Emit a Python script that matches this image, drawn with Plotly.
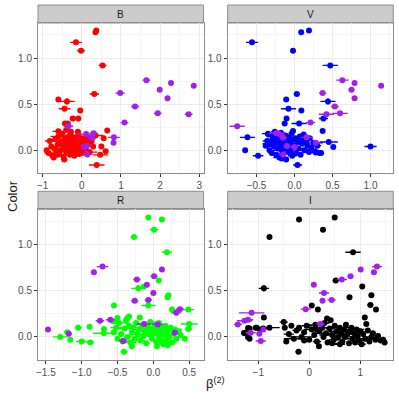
import plotly.graph_objects as go

bands = ["B", "V", "R", "I"]
band_colors = {"B": "#FF0000", "V": "#0000FF", "R": "#00FF00", "I": "#000000"}
purple = "#A020F0"

# ---- purple (highlighted) sources: shared Color values, per-band beta ----
purple_y = [0.76, 0.73, 0.70, 0.655, 0.62, 0.565, 0.475, 0.40, 0.39, 0.30,
            0.26, 0.185, 0.175, 0.14, 0.135, 0.08, 0.045, 0.035, -0.045]
purple_x = {
    "B": [1.65, 2.28, 2.86, 1.99, 0.98, 2.19, 1.36, 1.94, 2.73, 1.09,
          -0.34, 0.30, 0.11, 0.82, 0.25, 0.81, 0.13, 0.05, 0.14],
    "V": [0.63, 0.79, 1.14, 0.75, 0.37, 0.79, 0.53, 0.60, 0.42, 0.21,
          -0.755, -0.24, -0.20, 0.16, -0.15, 0.28, -0.10, 0.00, -0.15],
    "R": [-0.71, 0.12, -0.83, 0.01, -0.23, -0.09, 0.00, -0.07, -0.26, 0.37,
          0.32, -0.60, -0.745, -0.13, 0.06, -1.47, 0.30, -1.18, -0.42],
    "I": [1.33, 1.01, 1.27, 0.81, 0.64, 0.09, 0.29, 0.44, 0.26, -0.07,
          -1.13, -1.20, -1.27, 0.22, -1.40, -0.90, -1.15, -0.98, -0.95],
}
purple_xerr = {
    "B": [0.1, 0.06, 0.03, 0.06, 0.12, 0.03, 0.1, 0.1, 0.1, 0.1,
          0.12, 0.1, 0.25, 0.15, 0.1, 0.03, 0.1, 0.05, 0.12],
    "V": [0.08, 0.03, 0.03, 0.04, 0.05, 0.02, 0.05, 0.1, 0.1, 0.06,
          0.1, 0.1, 0.08, 0.08, 0.05, 0.03, 0.05, 0.05, 0.06],
    "R": [0.08, 0.04, 0.04, 0.05, 0.05, 0.04, 0.04, 0.05, 0.05, 0.06,
          0.07, 0.06, 0.06, 0.1, 0.08, 0.03, 0.04, 0.04, 0.06],
    "I": [0.1, 0.04, 0.04, 0.06, 0.1, 0.03, 0.1, 0.08, 0.04, 0.1,
          0.25, 0.1, 0.15, 0.08, 0.08, 0.05, 0.1, 0.05, 0.1],
}

# ---- main sources per band ----
main_x = {
    "B": [0.37, 0.35, -0.15, -0.02, 0.53, 0.32, -0.60, -0.38, -0.44, -0.04,
          -0.23, -0.09, -0.43, -0.36, -0.60, 0.65, 0.35, 0.56, 0.29, 0.50,
          0.61, 0.47, 0.38,
          -0.90, -0.85, -0.82, -0.78, -0.75, -0.72, -0.70, -0.68, -0.65, -0.62,
          -0.60, -0.58, -0.55, -0.53, -0.50, -0.48, -0.47, -0.45, -0.43, -0.42,
          -0.40, -0.39, -0.37, -0.35, -0.34, -0.32, -0.30, -0.29, -0.27, -0.25,
          -0.24, -0.22, -0.20, -0.19, -0.17, -0.15, -0.14, -0.12, -0.10, -0.08,
          -0.07, -0.05, -0.03, -0.02, 0.00, 0.02, 0.04, 0.05, 0.08, 0.10,
          0.12, 0.15, 0.18, 0.20, 0.25, 0.28, -0.45, -0.62, -0.28, -0.10],
    "V": [0.087, 0.19, -0.56, -0.02, 0.47, 0.03, -0.11, 0.44, -0.08, 0.09,
          0.38, -0.105, -0.13, 0.06, 0.37, -0.02, -0.34, -0.62, -0.65, -0.48,
          0.04, 1.00, 0.51, 0.45, 0.28, 0.35,
          -0.38, -0.36, -0.35, -0.33, -0.32, -0.30, -0.29, -0.27, -0.26, -0.25,
          -0.24, -0.23, -0.22, -0.21, -0.20, -0.19, -0.18, -0.17, -0.16, -0.15,
          -0.14, -0.13, -0.12, -0.11, -0.10, -0.09, -0.08, -0.07, -0.06, -0.05,
          -0.04, -0.03, -0.02, 0.00, 0.01, 0.02, 0.04, 0.05, 0.07, 0.08,
          0.10, 0.11, 0.13, 0.15, 0.17, 0.19, 0.20, 0.22, 0.25, 0.27,
          0.30, 0.33, -0.17, 0.12, -0.28],
    "R": [-0.07, 0.12, 0.01, -0.27, 0.19, 0.075, -0.13, -0.21, 0.20, 0.21,
          -0.55, -0.07, 0.26, 0.49, -0.89, -1.05, -1.20, -1.30, -1.16, -1.00,
          -0.88, -0.41, 0.44, 0.49, 0.50, -0.36, -0.19, -0.50, -0.55, -0.69,
          -0.69, -0.34,
          -0.55, -0.52, -0.50, -0.48, -0.45, -0.43, -0.40, -0.38, -0.36, -0.34,
          -0.32, -0.30, -0.28, -0.26, -0.24, -0.22, -0.20, -0.18, -0.16, -0.14,
          -0.12, -0.10, -0.08, -0.06, -0.04, -0.02, 0.00, 0.01, 0.03, 0.04,
          0.06, 0.07, 0.09, 0.10, 0.11, 0.13, 0.14, 0.16, 0.17, 0.19,
          0.20, 0.22, 0.24, 0.26, 0.28, 0.30, 0.32, 0.35, 0.38, 0.05,
          0.20, -0.05, 0.08, -0.30, 0.12],
    "I": [-0.20, 0.50, 0.27, -0.78, 0.86, 0.52, 1.04, -0.89, 0.79, 1.22,
          0.05, 0.17, 1.20, 1.31, -0.89, 1.09, 1.12, -0.50, -0.21, 0.19,
          -0.45, -1.26, -1.17, -1.17, -0.90, -0.78, -0.95, -1.05, -1.20, -1.03,
          -1.28, -1.20, 1.48, 1.45,
          -0.48, -0.40, -0.35, -0.30, -0.25, -0.20, -0.15, -0.10, -0.05, 0.00,
          0.05, 0.10, 0.12, 0.15, 0.20, 0.25, 0.28, 0.30, 0.33, 0.36,
          0.40, 0.42, 0.45, 0.48, 0.50, 0.53, 0.56, 0.60, 0.62, 0.65,
          0.68, 0.70, 0.72, 0.75, 0.78, 0.80, 0.83, 0.85, 0.88, 0.90,
          0.93, 0.95, 0.98, 1.00, 1.03, 1.06, 1.10, 1.15, 1.18, 1.22,
          1.25, 1.30, 1.35, 1.40, 0.35, 0.60, 0.15, -0.10, 0.45],
}
main_y = {
    "B": [1.30, 1.28, 1.17, 1.08, 0.92, 0.61, 0.55, 0.53, 0.45, 0.43,
          0.345, 0.345, 0.29, 0.29, 0.205, 0.215, 0.16, 0.13, 0.04, 0.04,
          -0.01, -0.05, -0.16,
          0.00, -0.03, 0.10, 0.04, -0.06, -0.08, 0.02, 0.12, -0.02, 0.06,
          0.15, -0.04, 0.09, 0.00, 0.18, 0.05, -0.07, 0.12, 0.02, 0.08,
          0.22, -0.03, 0.14, 0.06, 0.00, 0.10, -0.05, 0.17, 0.04, 0.12,
          -0.01, 0.08, 0.02, -0.06, 0.14, 0.06, -0.02, 0.10, 0.03, 0.16,
          -0.04, 0.07, 0.12, 0.00, 0.09, -0.03, 0.13, 0.05, 0.10, 0.02,
          0.15, 0.07, 0.12, -0.02, 0.10, 0.14, -0.10, -0.05, 0.20, 0.20],
    "V": [1.28, 1.30, 1.17, 1.08, 0.92, 0.61, 0.55, 0.53, 0.45, 0.43,
          0.345, 0.345, 0.29, 0.29, 0.21, 0.21, 0.17, 0.14, 0.00, -0.06,
          -0.16, 0.04, 0.035, 0.09, -0.025, -0.03,
          0.05, 0.10, 0.18, 0.00, 0.07, -0.03, 0.12, 0.04, 0.20, 0.09,
          -0.05, 0.15, 0.02, 0.11, -0.08, 0.06, 0.19, 0.00, 0.13, -0.04,
          0.08, 0.03, 0.16, -0.10, 0.10, 0.05, -0.02, 0.14, 0.07, 0.00,
          0.18, -0.06, 0.11, 0.04, 0.13, -0.03, 0.09, 0.02, 0.15, -0.05,
          0.07, 0.12, 0.00, 0.10, 0.05, -0.02, 0.13, 0.03, 0.08, -0.01,
          0.05, -0.03, -0.09, 0.17, 0.15],
    "R": [1.29, 1.27, 1.16, 1.08, 0.915, 0.61, 0.545, 0.525, 0.43, 0.45,
          0.34, 0.34, 0.295, 0.295, 0.11, 0.10, 0.05, 0.00, -0.03, -0.05,
          -0.06, -0.16, -0.02, 0.085, 0.14, 0.205, 0.21, 0.205, 0.17, 0.085,
          0.04, 0.22,
          0.05, 0.10, -0.02, 0.15, 0.03, -0.05, 0.09, 0.18, 0.00, 0.12,
          -0.06, 0.05, 0.10, -0.02, 0.15, 0.03, 0.08, -0.04, 0.12, 0.01,
          0.06, -0.07, 0.11, 0.03, 0.16, -0.02, 0.09, 0.04, 0.13, -0.05,
          0.07, 0.01, 0.11, -0.03, 0.05, 0.09, -0.08, 0.02, 0.12, -0.04,
          0.06, 0.00, 0.10, -0.06, 0.04, 0.08, -0.02, 0.06, 0.02, -0.10,
          -0.09, 0.07, 0.15, -0.10, -0.06],
    "I": [1.27, 1.29, 1.16, 1.08, 0.915, 0.61, 0.545, 0.525, 0.43, 0.45,
          0.34, 0.295, 0.345, 0.295, 0.21, 0.21, 0.14, 0.16, -0.16, -0.10,
          -0.05, 0.045, 0.09, -0.02, 0.09, 0.10, 0.08, 0.10, 0.097, 0.10,
          0.043, -0.005, -0.06, -0.03,
          0.10, 0.03, 0.12, -0.02, 0.07, 0.10, 0.00, 0.05, 0.12, -0.03,
          0.08, 0.02, 0.13, -0.05, 0.06, 0.10, 0.00, 0.15, 0.04, -0.06,
          0.09, 0.18, 0.02, -0.03, 0.12, 0.06, -0.01, 0.10, 0.04, -0.05,
          0.08, 0.00, 0.13, 0.03, -0.07, 0.06, 0.10, -0.02, 0.04, -0.06,
          0.08, 0.01, -0.04, 0.06, -0.08, 0.03, -0.02, 0.07, -0.05, 0.00,
          0.04, -0.03, 0.01, -0.04, 0.20, -0.08, 0.08, -0.04, -0.07],
}
main_xerr = {
    "B": [0.04, 0.04, 0.15, 0.1, 0.1, 0.12, 0.05, 0.2, 0.15, 0.05,
          0.08, 0.05, 0.08, 0.05, 0.15, 0.05, 0.2, 0.06, 0.05, 0.05,
          0.05, 0.2, 0.2,
          0.05, 0.1, 0.12, 0.05, 0.08, 0.04, 0.15, 0.06, 0.1, 0.05,
          0.2, 0.05, 0.08, 0.12, 0.05, 0.15, 0.06, 0.1, 0.05, 0.2,
          0.05, 0.08, 0.1, 0.05, 0.15, 0.06, 0.1, 0.05, 0.12, 0.2,
          0.05, 0.08, 0.15, 0.05, 0.1, 0.06, 0.2, 0.05, 0.1, 0.05,
          0.08, 0.15, 0.05, 0.12, 0.06, 0.1, 0.05, 0.2, 0.08, 0.05,
          0.1, 0.15, 0.05, 0.2, 0.06, 0.05, 0.08, 0.1, 0.05, 0.08],
    "V": [0.02, 0.02, 0.08, 0.03, 0.1, 0.04, 0.02, 0.1, 0.1, 0.02,
          0.06, 0.03, 0.03, 0.1, 0.03, 0.03, 0.05, 0.1, 0.02, 0.07,
          0.06, 0.08, 0.03, 0.12, 0.08, 0.03,
          0.03, 0.06, 0.08, 0.03, 0.1, 0.04, 0.03, 0.12, 0.05, 0.03,
          0.06, 0.1, 0.03, 0.04, 0.08, 0.03, 0.05, 0.12, 0.03, 0.06,
          0.03, 0.1, 0.04, 0.03, 0.08, 0.03, 0.05, 0.03, 0.1, 0.04,
          0.03, 0.06, 0.12, 0.03, 0.05, 0.08, 0.03, 0.1, 0.04, 0.03,
          0.06, 0.03, 0.1, 0.05, 0.03, 0.08, 0.03, 0.04, 0.12, 0.03,
          0.05, 0.03, 0.04, 0.03, 0.05],
    "R": [0.02, 0.02, 0.06, 0.05, 0.07, 0.02, 0.02, 0.1, 0.02, 0.02,
          0.03, 0.1, 0.04, 0.08, 0.03, 0.05, 0.05, 0.1, 0.03, 0.08,
          0.05, 0.05, 0.03, 0.05, 0.12, 0.05, 0.03, 0.03, 0.04, 0.04,
          0.15, 0.04,
          0.04, 0.08, 0.03, 0.12, 0.05, 0.03, 0.1, 0.04, 0.06, 0.03,
          0.08, 0.04, 0.15, 0.03, 0.05, 0.1, 0.03, 0.06, 0.04, 0.12,
          0.03, 0.05, 0.08, 0.03, 0.1, 0.04, 0.15, 0.03, 0.06, 0.04,
          0.1, 0.03, 0.05, 0.12, 0.04, 0.03, 0.08, 0.05, 0.03, 0.1,
          0.04, 0.15, 0.03, 0.06, 0.04, 0.1, 0.03, 0.05, 0.04, 0.03,
          0.04, 0.06, 0.03, 0.04, 0.05],
    "I": [0.03, 0.03, 0.06, 0.03, 0.15, 0.06, 0.03, 0.1, 0.02, 0.05,
          0.03, 0.02, 0.06, 0.03, 0.03, 0.04, 0.05, 0.08, 0.06, 0.03,
          0.05, 0.05, 0.05, 0.03, 0.15, 0.2, 0.05, 0.05, 0.05, 0.05,
          0.03, 0.03, 0.04, 0.04,
          0.05, 0.1, 0.05, 0.2, 0.08, 0.05, 0.25, 0.05, 0.1, 0.05,
          0.15, 0.05, 0.2, 0.08, 0.05, 0.25, 0.05, 0.1, 0.2, 0.05,
          0.08, 0.05, 0.25, 0.1, 0.05, 0.15, 0.05, 0.2, 0.08, 0.05,
          0.1, 0.25, 0.05, 0.15, 0.05, 0.1, 0.05, 0.2, 0.08, 0.05,
          0.15, 0.05, 0.1, 0.05, 0.08, 0.05, 0.1, 0.05, 0.05, 0.08,
          0.05, 0.05, 0.05, 0.05, 0.05, 0.1, 0.15, 0.05, 0.1],
}
# one source with a vertical error bar (index 7 in each band list)
yerr_index = 7
yerr_value = 0.035

x_ranges = {"B": [-1.12, 3.11], "V": [-0.88, 1.30], "R": [-1.61, 0.70], "I": [-1.60, 1.65]}
x_ticks = {"B": [-1, 0, 1, 2, 3], "V": [-0.5, 0.0, 0.5, 1.0],
           "R": [-1.5, -1.0, -0.5, 0.0, 0.5], "I": [-1, 0, 1]}
x_ticktext = {"B": ["\u22121", "0", "1", "2", "3"],
              "V": ["\u22120.5", "0.0", "0.5", "1.0"],
              "R": ["\u22121.5", "\u22121.0", "\u22120.5", "0.0", "0.5"],
              "I": ["\u22121", "0", "1"]}
y_range = [-0.25, 1.38]
y_ticks = [0.0, 0.5, 1.0]
y_ticktext = ["0.0", "0.5", "1.0"]

W = H = 399
# panel pixel boxes (left, right, top, bottom)
boxes = {"B": (38, 203.5, 23, 173.3), "V": (227.7, 393.3, 23, 173.3),
         "R": (38, 203.5, 209.3, 360), "I": (227.7, 393.3, 209.3, 360)}
strip_h = 18

fig = go.Figure()
layout = {}
shapes = []
annotations = []
grid_major = "#EBEBEB"
grid_minor = "#F5F5F5"
border = "#8C8C8C"

for i, b in enumerate(bands):
    n = i + 1
    xa = "xaxis" if n == 1 else f"xaxis{n}"
    ya = "yaxis" if n == 1 else f"yaxis{n}"
    xr = "x" if n == 1 else f"x{n}"
    yr = "y" if n == 1 else f"y{n}"
    l, r, t, bt = boxes[b]
    dx = [l / W, r / W]
    dy = [1 - bt / H, 1 - t / H]
    tk = x_ticks[b]
    step = tk[1] - tk[0]
    layout[xa] = dict(domain=dx, anchor=yr, range=x_ranges[b], tickvals=tk,
                      ticktext=x_ticktext[b], ticks="outside", ticklen=3,
                      tickcolor="#333333", tickfont=dict(size=10, color="#4D4D4D"),
                      showgrid=True, gridcolor=grid_major, gridwidth=1,
                      minor=dict(dtick=step / 2, tick0=tk[0] - step / 2,
                                 showgrid=True, gridcolor=grid_minor, gridwidth=0.6),
                      showline=True, mirror=True, linecolor=border, linewidth=1,
                      zeroline=False, automargin=False)
    layout[ya] = dict(domain=dy, anchor=xr, range=y_range, tickvals=y_ticks,
                      ticktext=y_ticktext, ticks="outside", ticklen=3,
                      tickcolor="#333333", tickfont=dict(size=10, color="#4D4D4D"),
                      showgrid=True, gridcolor=grid_major, gridwidth=1,
                      minor=dict(dtick=0.5, tick0=0.25, showgrid=True,
                                 gridcolor=grid_minor, gridwidth=0.6),
                      showline=True, mirror=True, linecolor=border, linewidth=1,
                      zeroline=False, automargin=False)
    # strip
    shapes.append(dict(type="rect", xref="paper", yref="paper",
                       x0=l / W, x1=r / W, y0=1 - t / H, y1=1 - (t - strip_h) / H,
                       fillcolor="#CCCCCC", line=dict(color=border, width=1),
                       layer="below"))
    annotations.append(dict(text=b, xref="paper", yref="paper",
                            x=(l + r) / 2 / W, y=1 - (t - strip_h / 2) / H,
                            showarrow=False, xanchor="center", yanchor="middle",
                            font=dict(size=10, color="#1A1A1A")))

    c = band_colors[b]
    ye = [0.0] * len(main_y[b])
    ye[yerr_index] = yerr_value
    fig.add_trace(go.Scatter(
        x=main_x[b], y=main_y[b], mode="markers", xaxis=xr, yaxis=yr,
        marker=dict(color=c, size=6),
        error_x=dict(type="data", array=main_xerr[b], color=c, thickness=1.4, width=0),
        error_y=dict(type="data", array=ye, color=c, thickness=1.4, width=0),
        showlegend=False, hoverinfo="skip"))
    fig.add_trace(go.Scatter(
        x=purple_x[b], y=purple_y, mode="markers", xaxis=xr, yaxis=yr,
        marker=dict(color=purple, size=6),
        error_x=dict(type="data", array=purple_xerr[b], color=purple, thickness=1.4, width=0),
        showlegend=False, hoverinfo="skip"))

annotations.append(dict(text="Color", xref="paper", yref="paper",
                        x=12 / W, y=1 - 196 / H, textangle=-90, showarrow=False,
                        xanchor="center", yanchor="middle",
                        font=dict(size=13, color="#1A1A1A")))
annotations.append(dict(text="\u03b2<sup>(2)</sup>", xref="paper", yref="paper",
                        x=215 / W, y=1 - 383 / H, showarrow=False,
                        xanchor="center", yanchor="middle",
                        font=dict(size=13, color="#1A1A1A")))

fig.update_layout(width=W, height=H, margin=dict(l=0, r=0, t=0, b=0, autoexpand=False),
                  paper_bgcolor="white", plot_bgcolor="white",
                  font=dict(family="Liberation Sans, Arial, sans-serif"),
                  shapes=shapes, annotations=annotations, **layout)
fig.write_html("out.html", config={"displayModeBar": False},
               post_script="document.body.style.margin='0';document.body.style.overflow='hidden';")
